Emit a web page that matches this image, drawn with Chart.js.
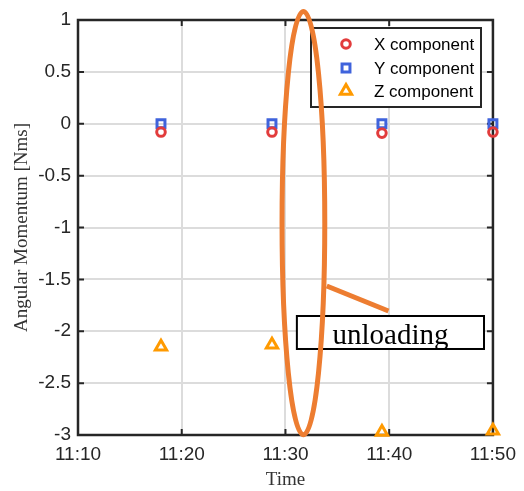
<!DOCTYPE html>
<html>
<head>
<meta charset="utf-8">
<script src="https://cdn.jsdelivr.net/npm/chart.js@4"></script>
<style>
  html, body { margin: 0; padding: 0; background: #fff; }
  #wrap { width: 524px; height: 491px; }
</style>
</head>
<body>
<div id="wrap"><canvas id="chart" width="524" height="491"></canvas></div>
<script>
// sample times, in minutes after 11:00
const sampleTimes = [18.0, 28.7, 39.3, 50.0];
const xComponent = [-0.08, -0.08, -0.09, -0.08];
const yComponent = [0, 0, 0, 0];
const zComponent = [-2.15, -2.13, -2.97, -2.96];

const seriesNames = ['X component', 'Y component', 'Z component'];
const timeTicks = [10, 20, 30, 40, 50];
const timeTickLabels = ['11:10', '11:20', '11:30', '11:40', '11:50'];
const momentumTicks = [1, 0.5, 0, -0.5, -1, -1.5, -2, -2.5, -3];
const momentumTickLabels = ['1', '0.5', '0', '-0.5', '-1', '-1.5', '-2', '-2.5', '-3'];

// the hand-drawn note, in data units
const unloadingNote = {
    ellipse: { x: 31.73, y: -0.957, rx: 2.06, ry: 2.04 },
    pointer: { x1: 33.98, y1: -1.564, x2: 39.93, y2: -1.805 },
    box: { x1: 31.10, x2: 49.14, y1: -1.853, y2: -2.171 },
    text: 'unloading'
};

const AXIS_COLOR = '#262626';
const NOTE_COLOR = '#ed7d31';
const MARKER_WIDTH = 3;

function toPoints(values) {
    return sampleTimes.map((t, i) => ({ x: t, y: values[i] }));
}

// box round the plot with inward ticks on all four sides
const axesBox = {
    id: 'axesBox',
    beforeDatasetsDraw(chart) {
        const { ctx, chartArea: a, scales } = chart;
        ctx.save();
        ctx.strokeStyle = AXIS_COLOR;
        ctx.lineWidth = 2;
        ctx.beginPath();
        timeTicks.forEach(v => {
            const px = scales.x.getPixelForValue(v);
            ctx.moveTo(px, a.bottom); ctx.lineTo(px, a.bottom - 6);
            ctx.moveTo(px, a.top); ctx.lineTo(px, a.top + 6);
        });
        momentumTicks.forEach(v => {
            const py = scales.y.getPixelForValue(v);
            ctx.moveTo(a.left, py); ctx.lineTo(a.left + 6, py);
            ctx.moveTo(a.right, py); ctx.lineTo(a.right - 6, py);
        });
        ctx.stroke();
        ctx.lineWidth = 2.5;
        ctx.strokeRect(a.left, a.top, a.right - a.left, a.bottom - a.top);
        ctx.restore();
    }
};

// legend drawn inside the plot, with a frame
const boxedLegend = {
    id: 'boxedLegend',
    afterDatasetsDraw(chart) {
        const { ctx, chartArea: a } = chart;
        const bx = a.left + 233, by = a.top + 8, bw = 170, bh = 79;
        const rows = [24, 48, 71];
        ctx.save();
        ctx.fillStyle = '#fff';
        ctx.fillRect(bx, by, bw, bh);
        ctx.strokeStyle = AXIS_COLOR;
        ctx.lineWidth = 2;
        ctx.strokeRect(bx, by, bw, bh);
        chart.data.datasets.forEach((ds, i) => {
            const y = a.top + rows[i];
            ctx.fillStyle = 'rgba(0,0,0,0)';
            ctx.strokeStyle = ds.pointBorderColor;
            ctx.lineWidth = ds.pointBorderWidth;
            Chart.helpers.drawPoint(ctx, {
                pointStyle: ds.pointStyle,
                radius: ds.pointRadius,
                borderWidth: ds.pointBorderWidth,
                rotation: 0
            }, bx + 35, y);
            ctx.fillStyle = '#000';
            ctx.font = '17px "Liberation Sans", Arial, sans-serif';
            ctx.textAlign = 'left';
            ctx.textBaseline = 'middle';
            ctx.fillText(ds.label, bx + 63, y + 1);
        });
        ctx.restore();
    }
};

// ellipse, pointer and text box
const noteLayer = {
    id: 'noteLayer',
    afterDraw(chart) {
        const { ctx, scales: { x, y } } = chart;
        const n = unloadingNote;
        ctx.save();

        const left = x.getPixelForValue(n.box.x1), right = x.getPixelForValue(n.box.x2);
        const top = y.getPixelForValue(n.box.y1), bottom = y.getPixelForValue(n.box.y2);
        ctx.fillStyle = '#fff';
        ctx.fillRect(left, top, right - left, bottom - top);
        ctx.strokeStyle = '#000';
        ctx.lineWidth = 2;
        ctx.strokeRect(left, top, right - left, bottom - top);
        ctx.fillStyle = '#000';
        ctx.font = '29px "Liberation Serif", "Times New Roman", serif';
        ctx.textAlign = 'center';
        ctx.textBaseline = 'alphabetic';
        ctx.fillText(n.text, (left + right) / 2, top + 28);

        ctx.strokeStyle = NOTE_COLOR;
        ctx.lineWidth = 5;
        ctx.lineCap = 'butt';
        ctx.beginPath();
        ctx.moveTo(x.getPixelForValue(n.pointer.x1), y.getPixelForValue(n.pointer.y1));
        ctx.lineTo(x.getPixelForValue(n.pointer.x2), y.getPixelForValue(n.pointer.y2));
        ctx.stroke();

        const cx = x.getPixelForValue(n.ellipse.x), cy = y.getPixelForValue(n.ellipse.y);
        const rx = x.getPixelForValue(n.ellipse.x + n.ellipse.rx) - cx;
        const ry = cy - y.getPixelForValue(n.ellipse.y + n.ellipse.ry);
        ctx.beginPath();
        ctx.ellipse(cx, cy, rx, ry, 0, 0, Math.PI * 2);
        ctx.stroke();
        ctx.restore();
    }
};

const tickFont = { family: '"Liberation Sans", Arial, sans-serif', size: 19 };
const titleFont = { family: '"Liberation Serif", "Times New Roman", serif', size: 19 };

new Chart(document.getElementById('chart'), {
    type: 'scatter',
    data: {
        datasets: [
            {
                label: seriesNames[0],
                data: toPoints(xComponent),
                pointStyle: 'circle',
                pointRadius: 4.3,
                pointBorderWidth: MARKER_WIDTH,
                pointBorderColor: '#e23c3c',
                pointBackgroundColor: 'rgba(0,0,0,0)'
            },
            {
                label: seriesNames[1],
                data: toPoints(yComponent),
                pointStyle: 'rect',
                pointRadius: 5.6,
                pointBorderWidth: MARKER_WIDTH,
                pointBorderColor: '#3f63dc',
                pointBackgroundColor: 'rgba(0,0,0,0)'
            },
            {
                label: seriesNames[2],
                data: toPoints(zComponent),
                pointStyle: 'triangle',
                pointRadius: 6.5,
                pointBorderWidth: MARKER_WIDTH,
                pointBorderColor: '#ff9a00',
                pointBackgroundColor: 'rgba(0,0,0,0)'
            }
        ]
    },
    options: {
        responsive: false,
        animation: false,
        devicePixelRatio: 1,
        clip: false,
        layout: { padding: { top: 20, right: 29, left: 0, bottom: 0 } },
        plugins: {
            legend: { display: false },
            tooltip: { enabled: false }
        },
        elements: { point: { hoverRadius: 0 } },
        scales: {
            x: {
                type: 'linear',
                min: 10,
                max: 50,
                afterFit(scale) { scale.height = 56; },
                afterBuildTicks(scale) { scale.ticks = timeTicks.map(v => ({ value: v })); },
                border: { display: false },
                grid: { color: '#dcdcdc', lineWidth: 2, drawTicks: false },
                ticks: {
                    padding: 8,
                    color: AXIS_COLOR,
                    font: tickFont,
                    maxRotation: 0,
                    autoSkip: false,
                    callback: (v, i) => timeTickLabels[i]
                },
                title: {
                    display: true,
                    text: 'Time',
                    color: '#333',
                    font: titleFont,
                    padding: { top: 0, bottom: 0 }
                }
            },
            y: {
                type: 'linear',
                min: -3,
                max: 1,
                afterFit(scale) { scale.width = 78; },
                afterBuildTicks(scale) { scale.ticks = momentumTicks.map(v => ({ value: v })); },
                border: { display: false },
                grid: { color: '#dcdcdc', lineWidth: 2, drawTicks: false },
                ticks: {
                    padding: 7,
                    color: AXIS_COLOR,
                    font: tickFont,
                    autoSkip: false,
                    callback: (v, i) => momentumTickLabels[i]
                },
                title: {
                    display: true,
                    text: 'Angular Momentum [Nms]',
                    color: '#333',
                    font: titleFont,
                    padding: { top: 11, bottom: 0 }
                }
            }
        }
    },
    plugins: [axesBox, boxedLegend, noteLayer]
});
</script>
</body>
</html>
